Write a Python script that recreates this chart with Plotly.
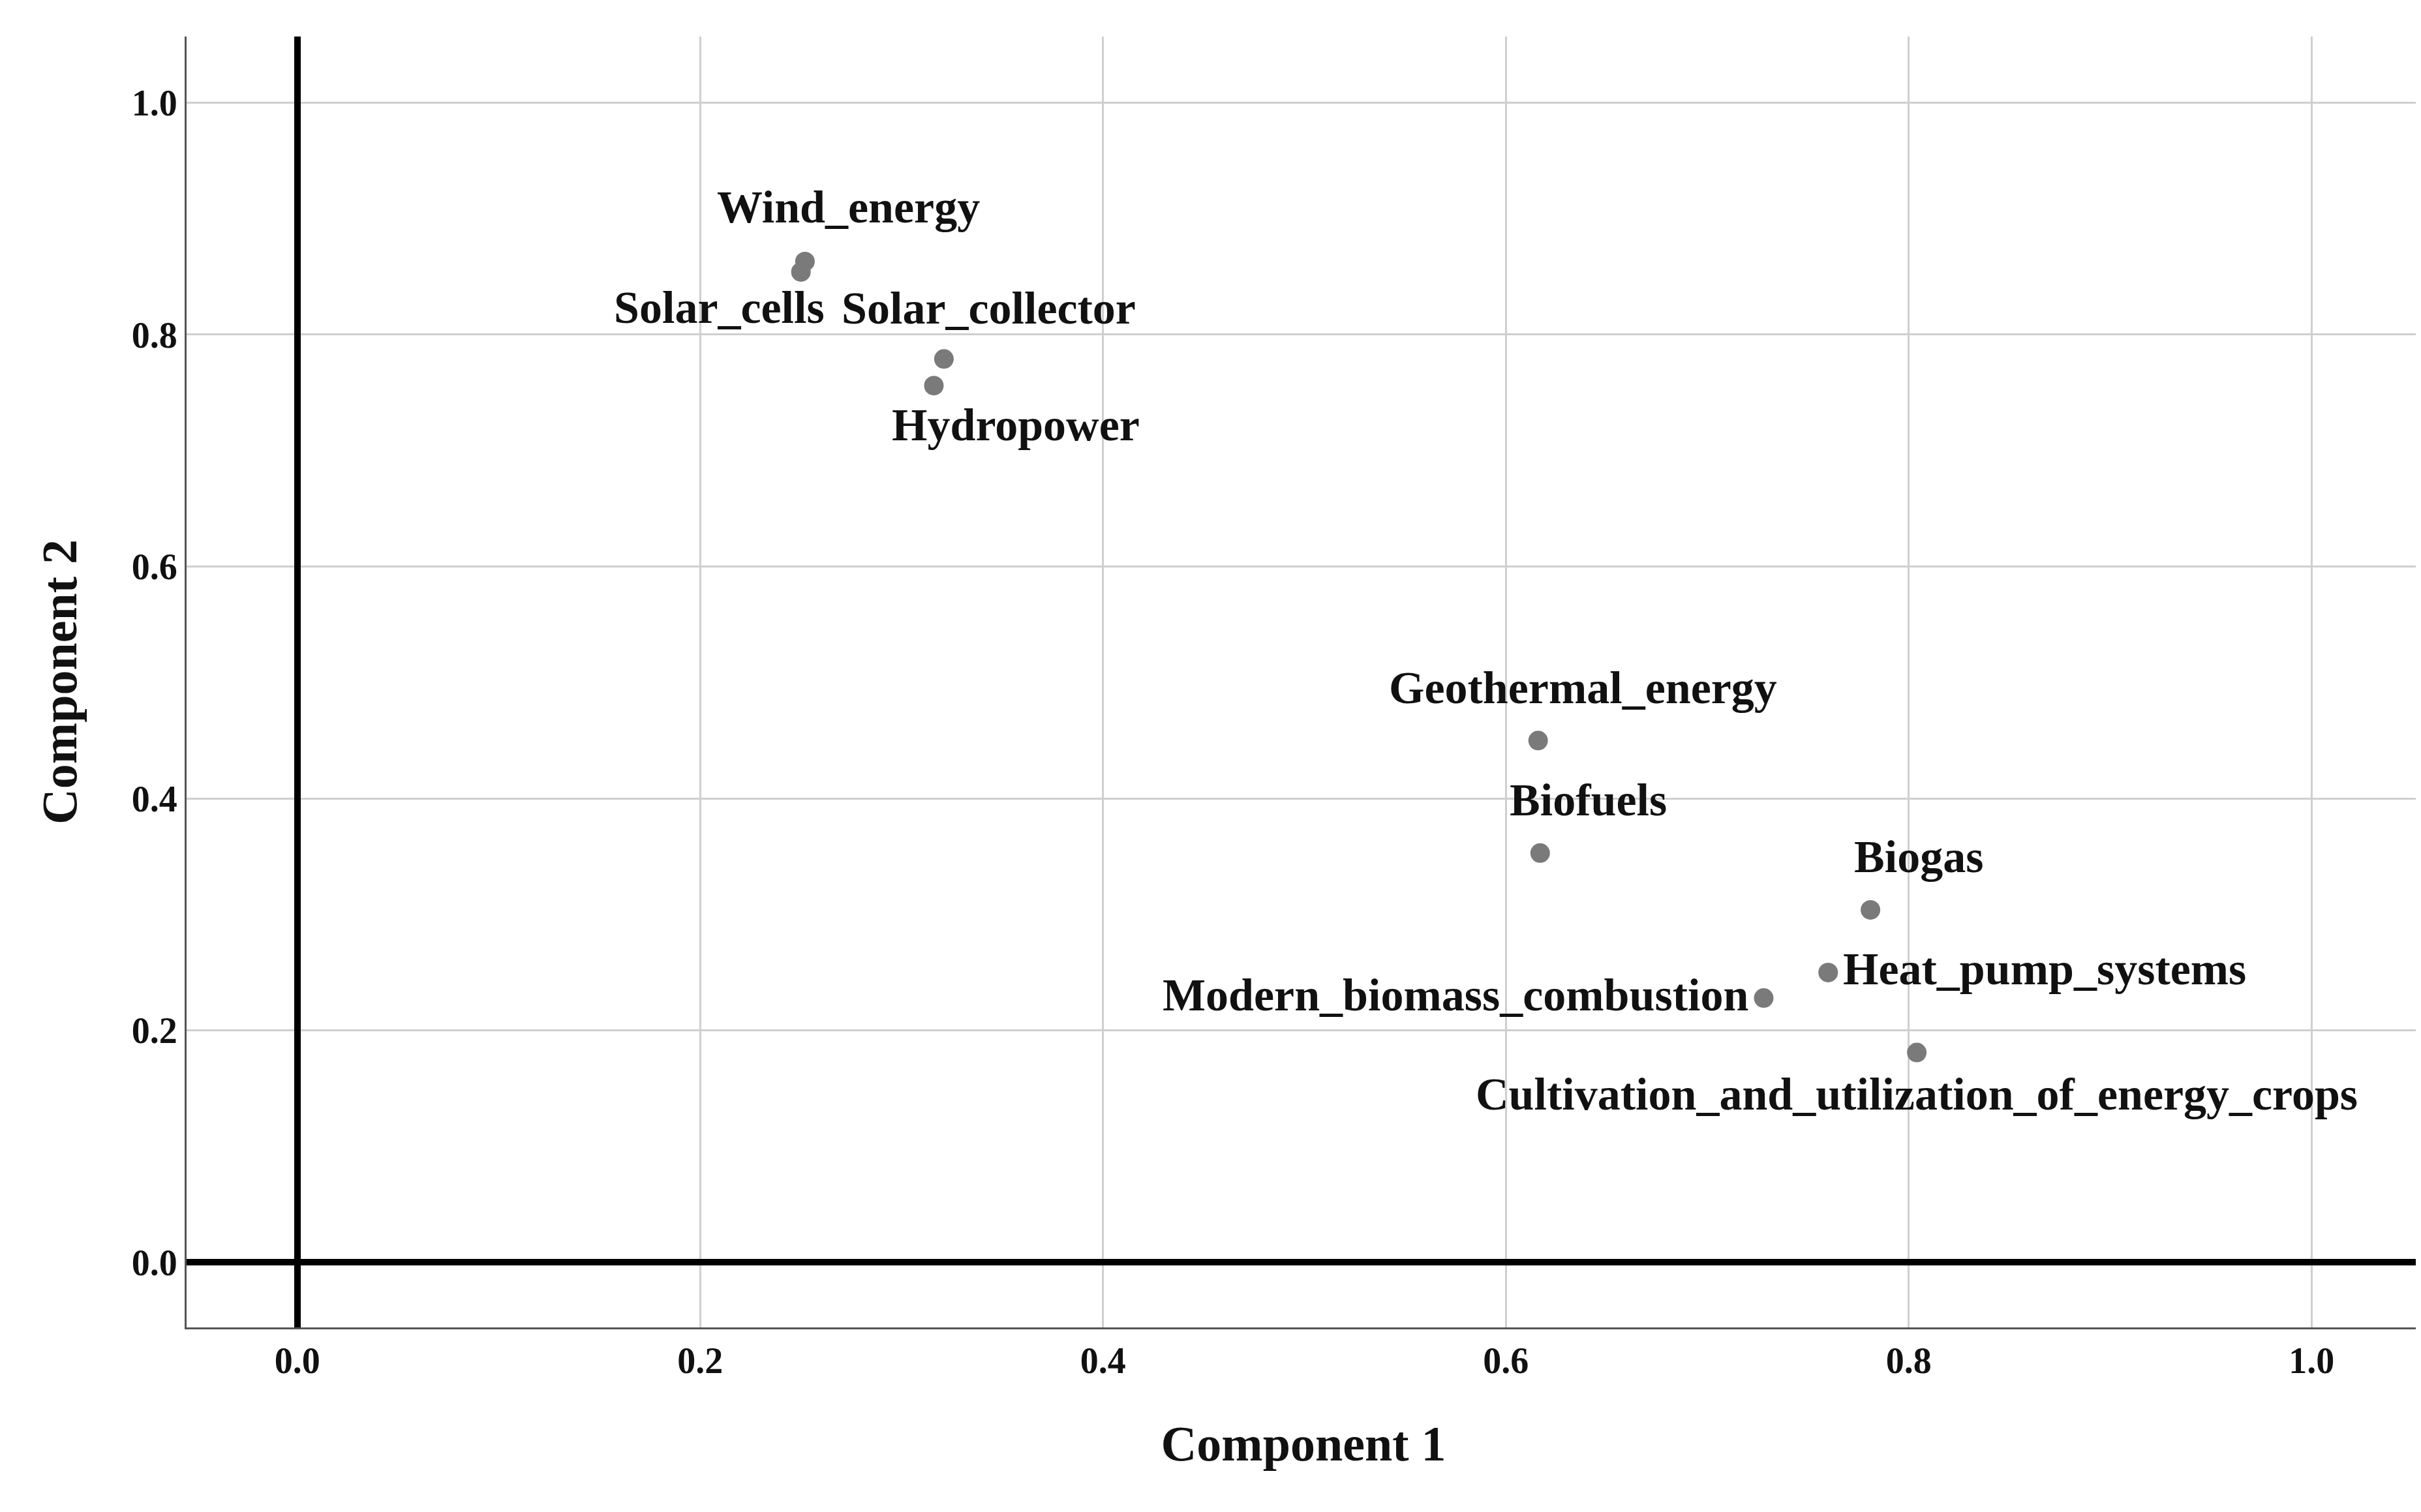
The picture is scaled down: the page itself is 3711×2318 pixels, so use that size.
import plotly.graph_objects as go

labels = ["Wind_energy", "Solar_cells", "Solar_collector", "Hydropower",
          "Geothermal_energy", "Biofuels", "Biogas", "Heat_pump_systems",
          "Modern_biomass_combustion", "Cultivation_and_utilization_of_energy_crops"]
comp1 = [0.252, 0.250, 0.321, 0.316, 0.616, 0.617, 0.781, 0.760, 0.728, 0.804]
comp2 = [0.863, 0.854, 0.779, 0.756, 0.450, 0.353, 0.304, 0.250, 0.228, 0.181]
# label placement: (xanchor, xshift, yshift)
placement = [("center", 67, 83), ("right", 38, -55), ("center", 69, 78),
             ("center", 126, -60), ("center", 69, 81), ("center", 74, 81),
             ("center", 74, 81), ("left", 21, 5), ("right", -21, 5),
             ("center", 0, -64)]

font = "Liberation Serif"
fig = go.Figure()
fig.add_trace(go.Scatter(x=comp1, y=comp2, mode="markers",
                         marker=dict(size=30, color="#7a7a7a"), showlegend=False))
for lab, x, y, (xa, dx, dy) in zip(labels, comp1, comp2, placement):
    fig.add_annotation(x=x, y=y, text=lab, showarrow=False, xanchor=xa, yanchor="middle",
                       xshift=dx, yshift=dy,
                       font=dict(family=font, size=70, color="#111", weight="bold"))

axis = dict(showgrid=True, gridcolor="#cfcfcf", gridwidth=3,
            zeroline=True, zerolinecolor="black", zerolinewidth=10,
            showline=True, linecolor="#555", linewidth=3,
            tickvals=[0, 0.2, 0.4, 0.6, 0.8, 1.0], tickformat=".1f",
            ticks="", tickfont=dict(family=font, size=56, color="#111", weight="bold"),
            title_font=dict(family=font, size=76, color="#111", weight="bold"))
fig.update_xaxes(axis, range=[-0.055, 1.054], title_text="Component 1", title_standoff=70)
fig.update_yaxes(axis, range=[-0.056, 1.057], title_text="Component 2", title_standoff=60)
fig.update_layout(width=3711, height=2318, plot_bgcolor="white", paper_bgcolor="white",
                  margin=dict(l=278, r=9, t=48, b=291))
fig.write_html("out.html")
